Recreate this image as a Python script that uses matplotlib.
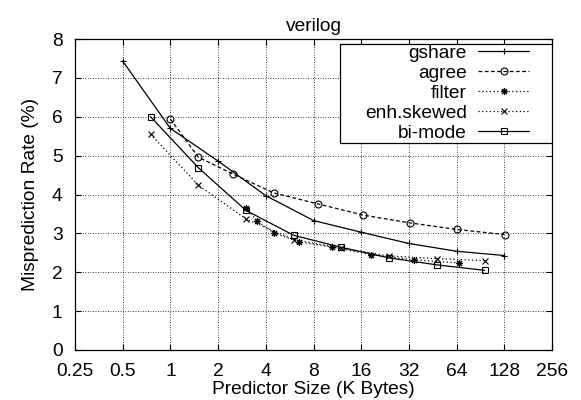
#!/usr/bin/env python3
import matplotlib
matplotlib.use('Agg')
import matplotlib.pyplot as plt
import matplotlib.ticker as mticker
from matplotlib.patches import Rectangle


# +
# data
# -
GSHARE_X = [0.5, 1, 2, 4, 8, 16, 32, 64, 128]
GSHARE_Y = [7.43, 5.70, 4.86, 3.97, 3.33, 3.03, 2.74, 2.54, 2.43]

AGREE_X = [1, 1.5, 2.5, 4.5, 8.5, 16.5, 32.5, 64.5, 128.5]
AGREE_Y = [5.94, 4.96, 4.52, 4.04, 3.76, 3.47, 3.27, 3.10, 2.97]

FILTER_X = [3, 3.5, 4.5, 6.5, 10.5, 18.5, 34.5, 66.5]
FILTER_Y = [3.66, 3.33, 3.01, 2.78, 2.65, 2.45, 2.32, 2.24]

SKEW_X = [0.75, 1.5, 3, 6, 12, 24, 48, 96]
SKEW_Y = [5.55, 4.24, 3.37, 2.84, 2.62, 2.42, 2.35, 2.30]

BIMODE_X = [0.75, 1.5, 3, 6, 12, 24, 48, 96]
BIMODE_Y = [6.00, 4.69, 3.59, 2.95, 2.64, 2.37, 2.19, 2.05]

X_TICKS = [0.25, 0.5, 1, 2, 4, 8, 16, 32, 64, 128, 256]
X_LABELS = ['0.25', '0.5', '1', '2', '4', '8', '16', '32', '64', '128', '256']
Y_TICKS = list(range(0, 9))


# +
# style
# -
FS = 13.8
plt.rcParams['font.family'] = ['Liberation Sans', 'DejaVu Sans']
plt.rcParams['font.size'] = FS

fig = plt.figure(figsize=(5.81, 4.0), dpi=100)
ax = fig.add_axes([75 / 581, 50 / 400, 477 / 581, 311 / 400])

_kw = dict(color='k', lw=0.9, ms=5, mew=0.8)
ax.plot(GSHARE_X, GSHARE_Y, ls='-', marker='+', label='gshare', **_kw)
ax.plot(AGREE_X, AGREE_Y, ls=(0, (3, 2)), marker='o', mfc='none', label='agree', **_kw)
ax.plot(FILTER_X, FILTER_Y, ls=(0, (1, 2)), marker=(8, 2, 0), label='filter', **_kw)
ax.plot(SKEW_X, SKEW_Y, ls=(0, (1, 2)), marker='x', label='enh.skewed', **_kw)
ax.plot(BIMODE_X, BIMODE_Y, ls='-', marker='s', mfc='none', label='bi-mode', **_kw)

ax.set_xscale('log', base=2)
ax.set_xlim(0.25, 256)
ax.set_ylim(0, 8)
ax.xaxis.set_major_locator(mticker.FixedLocator(X_TICKS))
ax.xaxis.set_major_formatter(mticker.FixedFormatter(X_LABELS))
ax.xaxis.set_minor_locator(mticker.NullLocator())
ax.set_yticks(Y_TICKS)

ax.grid(True, color='k', ls=(0, (1, 2)), lw=0.6)
ax.tick_params(direction='in', top=True, right=True, length=4, width=0.8, labelsize=FS)
ax.tick_params(axis='x', pad=9)
ax.tick_params(axis='y', pad=9)
for _s in ax.spines.values():
    _s.set_linewidth(0.9)

ax.set_xlabel('Predictor Size (K Bytes)', labelpad=1)
ax.set_ylabel('Misprediction Rate (%)', labelpad=9)
ax.set_title('verilog', fontsize=FS, pad=6)

# legend: gnuplot style box, labels right-aligned before the samples
ax.add_patch(Rectangle((0.5556, 0.6655), 0.4444, 0.319, transform=ax.transAxes,
                       facecolor='white', edgecolor='k', lw=0.9, zorder=4.5))
_leg = ax.legend(loc='upper right', bbox_to_anchor=(0.952, 0.982), borderaxespad=0,
                 borderpad=0, markerfirst=False, frameon=False,
                 handlelength=2.65, handletextpad=0.6, labelspacing=0.13, fontsize=FS)
_leg.set_zorder(5)

fig.savefig('out.png', dpi=100)
